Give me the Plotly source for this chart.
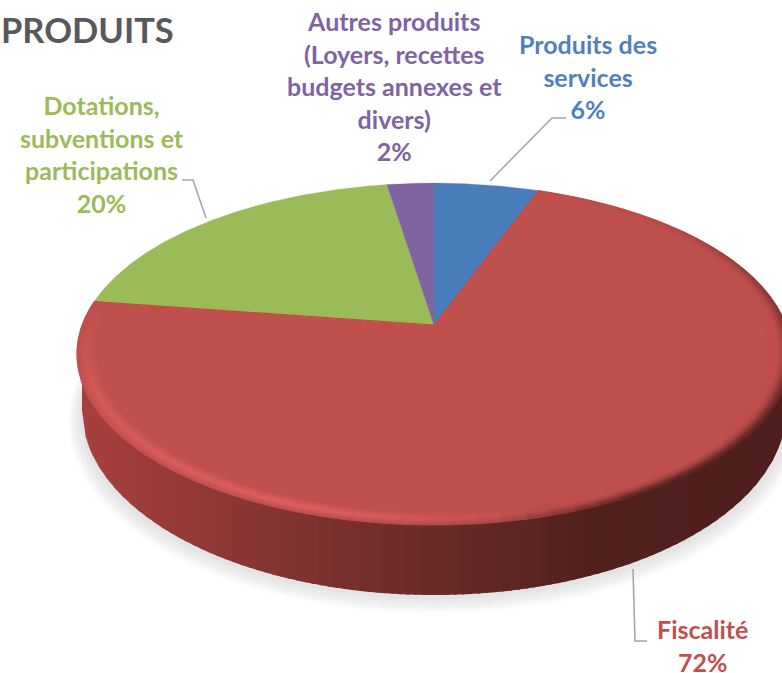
import numpy as np
import plotly.graph_objects as go

# ---- data ----
categories = ["Produits des<br>services", "Fiscalité",
              "Dotations,<br>subventions et<br>participations",
              "Autres produits<br>(Loyers, recettes<br>budgets annexes et<br>divers)"]
shares = [5.6, 71.7, 20.2, 2.5]
percent_labels = ["6%", "72%", "20%", "2%"]
slice_colors = ["#4a7ebb", "#c0504d", "#9bbb59", "#8064a2"]
label_centres_x = [588, 702, 102, 394]
label_centres_y = [76.5, 645.5, 154, 85.5]
title_text = "PRODUITS"

# leader lines
leaders = [([490, 552, 566], [181, 118, 118]),
           ([633, 635, 647], [569, 641, 641]),
           ([182, 193, 206], [180, 180, 218])]

# projection of the pie disc
CX, CY, A, B, K = 434.0, 325.0, 352.0, 166.0, 0.17
FACE = np.array([0xBE, 0x4F, 0x4C], float)
HIGHLIGHT = np.array([0xE0, 0x62, 0x62], float)
RED_BRIGHT = "#c84643"
side_stops_x = [80, 200, 330, 450, 600, 790]
side_stops = [(0xA8, 0x40, 0x3D), (0x92, 0x39, 0x37), (0x7B, 0x30, 0x2E),
              (0x66, 0x2A, 0x27), (0x50, 0x20, 0x1D), (0x4E, 0x1F, 0x1C)]


def project(theta_deg, r=1.0):
    t = np.radians(theta_deg)
    u, v = r * np.sin(t), r * np.cos(t)
    w = 1 + K * v
    return CX + A * u / w, CY - B * v / w


def hexcol(c):
    c = np.clip(np.round(c), 0, 255).astype(int)
    return "#%02x%02x%02x" % tuple(c)


def side_colour(x):
    return np.array([np.interp(x, side_stops_x, [s[i] for s in side_stops]) for i in range(3)])


def poly(fig, xs, ys, colour, lw=0.7):
    fig.add_trace(go.Scatter(x=list(xs), y=list(ys), mode="lines", fill="toself",
                             fillcolor=colour, line=dict(color=colour, width=lw),
                             hoverinfo="skip", showlegend=False))


fig = go.Figure()

# soft shadow under the disc
BOT_CY, BOT_RX, BOT_RY = 410.0, 352.0, 185.0
phi = np.linspace(0, 2 * np.pi, 240)
for delta, shift, col in [(14, 12, "#fcfcfc"), (12, 11, "#f8f8f8"), (10, 10, "#f3f3f3"),
                          (8, 9, "#eeeeee"), (5, 8, "#e9e9e9"), (2, 6, "#e4e4e4")]:
    poly(fig, CX + (BOT_RX + delta) * np.cos(phi),
         BOT_CY + shift + (BOT_RY + delta - shift * 0.6) * np.sin(phi), col, 0)

# side wall: strips overlap their right neighbour to hide seams
edges = np.linspace(CX - BOT_RX, CX + BOT_RX, 90)
for x0, x1 in zip(edges[:-1], edges[1:]):
    xx = np.linspace(x0, x1 + 3, 4)
    xx = np.clip(xx, CX - BOT_RX, CX + BOT_RX)
    yy = BOT_CY + BOT_RY * np.sqrt(np.clip(1 - ((xx - CX) / BOT_RX) ** 2, 0, 1))
    poly(fig, [xx[0]] + list(xx) + [xx[-1]], [340] + list(yy) + [340],
         hexcol(side_colour((x0 + x1) / 2)), 0)

# top face wedges
bounds = np.concatenate([[0], np.cumsum(shares)]) * 3.6
order = [1, 2, 3, 0]
for i in order:
    th = np.linspace(bounds[i], bounds[i + 1], 160)
    px, py = project(th)
    poly(fig, [CX] + list(px) + [CX], [CY] + list(py) + [CY], slice_colors[i], 0.3)

# thin brighter edge on the red wedge's straight sides
ex0, ey0 = project(bounds[1])
ex1, ey1 = project(bounds[2])
fig.add_trace(go.Scatter(x=[ex0, CX, ex1], y=[ey0, CY, ey1], mode="lines",
                         line=dict(color=RED_BRIGHT, width=1.2),
                         hoverinfo="skip", showlegend=False))

# bevel on the red wedge rim
layers = np.linspace(0, 1, 11)
RING = 0.06
seg = np.arange(bounds[1], bounds[2] + 0.01, 3.5)
seg = np.append(seg, bounds[2])
for s0, s1 in zip(layers[:-1], layers[1:]):
    s = (s0 + s1) / 2
    r0, r1 = 1 - RING * s0, 1 - RING * s1
    p = np.interp(s, [0, 0.2, 0.45, 1], [0.25, 0.6, 1, 0])
    q = np.interp(s, [0, 0.2, 0.4, 0.65], [1, 0.7, 0.25, 0])
    for a0, a1 in zip(seg[:-1], seg[1:]):
        a = (a0 + a1) / 2
        h = np.interp(a, [165, 175, 195, 215, 250, 278], [0, 0.4, 1, 0.9, 0.6, 0.05])
        d = np.interp(a, [20, 45, 70, 110, 150, 172, 230, 278],
                      [0.0, 0.1, 0.4, 0.85, 1, 0.2, 0.12, 0.05])
        x_in, y_in = project(np.array([a0, a1]), r1)
        x_out, y_out = project(np.array([a1, a0]), r0)
        xs = list(x_in) + list(x_out)
        ys = list(y_in) + list(y_out)
        c = FACE + h * p * (HIGHLIGHT - FACE)
        c = c + d * q * (side_colour(np.mean(xs)) - c)
        poly(fig, xs, ys, hexcol(c), 0.8)

# leader lines
for lx, ly in leaders:
    fig.add_trace(go.Scatter(x=lx, y=ly, mode="lines", line=dict(color="#a6a6a6", width=1.6),
                             hoverinfo="skip", showlegend=False))

# labels
text_colors = ["#4f81bd", "#c0504d", "#9bbb59", "#8064a2"]
for name, pct, col, lx, ly in zip(categories, percent_labels, text_colors,
                                  label_centres_x, label_centres_y):
    fig.add_annotation(x=lx, y=ly, text=f"<b>{name}<br>{pct}</b>", showarrow=False,
                       xanchor="center", yanchor="middle", align="center",
                       font=dict(family="Lato", size=25, color=col))

fig.add_annotation(x=176, y=29, text=f"<b>{title_text}</b>", showarrow=False,
                   xanchor="right", yanchor="middle",
                   font=dict(family="Lato", size=34.5, color="#595959"))

fig.update_layout(width=782, height=673, margin=dict(l=0, r=0, t=0, b=0),
                  paper_bgcolor="white", plot_bgcolor="white", showlegend=False,
                  xaxis=dict(range=[0, 782], visible=False, fixedrange=True),
                  yaxis=dict(range=[673, 0], visible=False, fixedrange=True))
fig.write_html("out.html", config=dict(displayModeBar=False),
               post_script="document.body.style.margin='0';document.body.style.overflow='hidden';")
